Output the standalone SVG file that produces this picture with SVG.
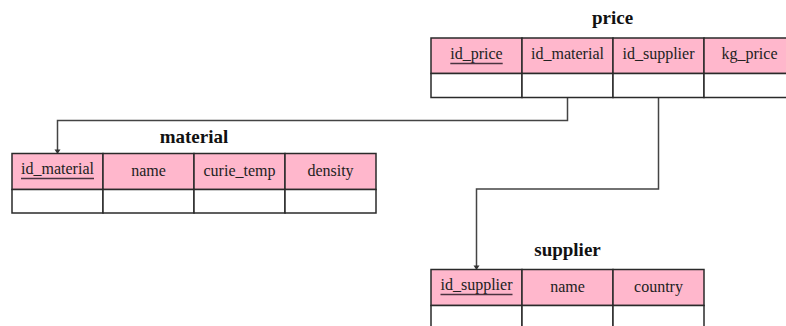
<svg xmlns="http://www.w3.org/2000/svg" width="786" height="326" viewBox="0 0 786 326">
<style>
.hd{fill:#ffb7cc;stroke:#2a2a2a;stroke-width:1.5}
.rw{fill:#ffffff;stroke:#2a2a2a;stroke-width:1.5}
.tx{font-family:"Liberation Serif",serif;font-size:16px;fill:#222;text-anchor:middle}
.tt{font-family:"Liberation Serif",serif;font-size:19px;font-weight:bold;fill:#111;text-anchor:middle}
.ul{stroke:#4a3340;stroke-width:1.5}
.cn{fill:none;stroke:#444;stroke-width:1.5}
.ah{fill:#333}
</style>
<g id="connectors">
<path class="cn" d="M567.5 97.5 V120.5 H57.5 V150"/>
<path class="ah" d="M54.5 149.5 L60.5 149.5 L57.5 154 Z"/>
<path class="cn" d="M658.5 97.5 V189 H476.5 V266"/>
<path class="ah" d="M473.5 265.5 L479.5 265.5 L476.5 270 Z"/>
</g>
<g id="price">
<text class="tt" x="612.5" y="23.5">price</text>
<rect class="hd" x="431" y="38" width="91" height="35.5"/>
<rect class="hd" x="522" y="38" width="91" height="35.5"/>
<rect class="hd" x="613" y="38" width="91" height="35.5"/>
<rect class="hd" x="704" y="38" width="91" height="35.5"/>
<rect class="rw" x="431" y="73.5" width="91" height="24"/>
<rect class="rw" x="522" y="73.5" width="91" height="24"/>
<rect class="rw" x="613" y="73.5" width="91" height="24"/>
<rect class="rw" x="704" y="73.5" width="91" height="24"/>
<text class="tx" x="476.5" y="58.5">id_price</text>
<line class="ul" x1="450.3" y1="63.5" x2="502.7" y2="63.5"/>
<text class="tx" x="567.5" y="58.5">id_material</text>
<text class="tx" x="658.5" y="58.5">id_supplier</text>
<text class="tx" x="749.5" y="58.5">kg_price</text>
</g>
<g id="material">
<text class="tt" x="194" y="143.3">material</text>
<rect class="hd" x="12" y="153.5" width="91" height="36"/>
<rect class="hd" x="103" y="153.5" width="91" height="36"/>
<rect class="hd" x="194" y="153.5" width="91" height="36"/>
<rect class="hd" x="285" y="153.5" width="91" height="36"/>
<rect class="rw" x="12" y="189.5" width="91" height="23.5"/>
<rect class="rw" x="103" y="189.5" width="91" height="23.5"/>
<rect class="rw" x="194" y="189.5" width="91" height="23.5"/>
<rect class="rw" x="285" y="189.5" width="91" height="23.5"/>
<text class="tx" x="57.5" y="173.5">id_material</text>
<line class="ul" x1="21" y1="178.5" x2="94" y2="178.5"/>
<text class="tx" x="148.5" y="176">name</text>
<text class="tx" x="239.5" y="176">curie_temp</text>
<text class="tx" x="330.5" y="176">density</text>
</g>
<g id="supplier">
<text class="tt" x="567.5" y="256">supplier</text>
<rect class="hd" x="431" y="269.5" width="91" height="36"/>
<rect class="hd" x="522" y="269.5" width="91" height="36"/>
<rect class="hd" x="613" y="269.5" width="91" height="36"/>
<rect class="rw" x="431" y="305.5" width="91" height="24"/>
<rect class="rw" x="522" y="305.5" width="91" height="24"/>
<rect class="rw" x="613" y="305.5" width="91" height="24"/>
<text class="tx" x="476.5" y="289.5">id_supplier</text>
<line class="ul" x1="440.5" y1="294.5" x2="512.5" y2="294.5"/>
<text class="tx" x="567.5" y="292">name</text>
<text class="tx" x="658.5" y="292">country</text>
</g>
</svg>
